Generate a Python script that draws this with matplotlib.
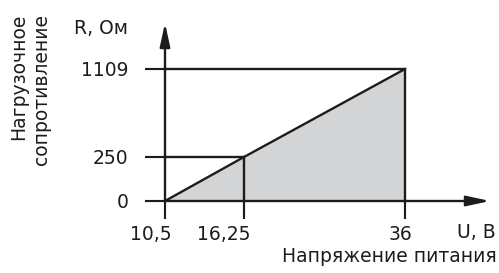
import numpy as np
import matplotlib
matplotlib.use("Agg")
import matplotlib.pyplot as plt
from matplotlib.scale import FuncScale
from matplotlib.transforms import ScaledTranslation

plt.rcParams['font.family'] = ['DejaVu Sans']

# ---- data ----
u_values = [10.5, 16.25, 36]           # supply voltage, V
u_labels = ["10,5", "16,25", "36"]
r_values = [0, 250, 1109]              # load resistance, Ohm
r_labels = ["0", "250", "1109"]
line_u = [10.5, 16.25, 36]
line_r = [0, 250, 1109]

W, H = 499, 273
DPI = 100
fig = plt.figure(figsize=(W / DPI, H / DPI), dpi=DPI)
ax = fig.add_axes([0, 0, 1, 1])
ax.set_facecolor('none')

# schematic (non-linear) axes: piecewise-linear scales
x_px = [165, 244, 405]
y_px = [72, 116, 204]


def make_pw(xs, ys):
    xs = np.asarray(xs, float)
    ys = np.asarray(ys, float)

    def f(v):
        v = np.asarray(v, float)
        lo = ys[0] + (v - xs[0]) * (ys[1] - ys[0]) / (xs[1] - xs[0])
        hi = ys[-1] + (v - xs[-1]) * (ys[-1] - ys[-2]) / (xs[-1] - xs[-2])
        return np.where(v < xs[0], lo, np.where(v > xs[-1], hi, np.interp(v, xs, ys)))
    return f


fx, gx = make_pw(u_values, x_px), make_pw(x_px, u_values)
fy, gy = make_pw(r_values, y_px), make_pw(y_px, r_values)
ax.set_xscale(FuncScale(ax.xaxis, (fx, gx)))
ax.set_yscale(FuncScale(ax.yaxis, (fy, gy)))
ax.set_xlim(float(gx(0)), float(gx(W)))
ax.set_ylim(float(gy(0)), float(gy(H)))

lw = 1.7
ink = '#1c1c1c'
fs = 13.5

# fill under the line
ax.fill_between([u_values[0], u_values[-1]], [r_values[0], r_values[-1]], r_values[0],
                color='#d3d4d6', lw=0, zorder=1)
ax.plot(line_u, line_r, color=ink, lw=lw, zorder=3, solid_capstyle='butt')

# guide lines
kw = dict(color=ink, lw=lw, zorder=3, solid_capstyle='projecting')
ax.plot([u_values[0], u_values[1]], [r_values[1], r_values[1]], **kw)
ax.plot([u_values[1], u_values[1]], [r_values[0], r_values[1]], **kw)
ax.plot([u_values[0], u_values[2]], [r_values[2], r_values[2]], **kw)
ax.plot([u_values[2], u_values[2]], [r_values[0], r_values[2]], **kw)

# axes with arrows
arrow = dict(arrowstyle='-|>,head_length=0.78,head_width=0.17', mutation_scale=18,
             color=ink, lw=lw, shrinkA=0, shrinkB=0)
ax.annotate('', xy=(u_values[0], float(gy(H - 23))), xytext=(u_values[0], r_values[0]),
            arrowprops=arrow, zorder=4)
ax.annotate('', xy=(float(gx(490)), r_values[0]), xytext=(u_values[0], r_values[0]),
            arrowprops=arrow, zorder=4)

# spines only used to position ticks
for s in ax.spines.values():
    s.set_visible(False)
ax.spines['left'].set_position(('data', u_values[0]))
ax.spines['bottom'].set_position(('data', r_values[0]))

ax.set_xticks(u_values, [""] * len(u_values))
ax.set_yticks(r_values, r_labels)
ax.minorticks_off()
ax.tick_params(axis='x', direction='out', length=13, width=lw * 0.9, color=ink)
ax.tick_params(axis='y', direction='out', length=14.4, width=lw * 0.9, color=ink,
               pad=12, labelsize=fs, labelcolor=ink)
ax.xaxis.set_ticks_position('bottom')
ax.yaxis.set_ticks_position('left')

# x tick labels: right-aligned slightly past each tick, as in the reference
off = ax.get_xaxis_transform() + ScaledTranslation(7 / DPI, 0, fig.dpi_scale_trans)
for u, lab in zip(u_values, u_labels):
    ax.text(u, fy(r_values[0]) / H - 33 / H, lab, transform=off, ha='right', va='center',
            fontsize=fs, color=ink)

# labels
tr = fig.transFigure
def px(x, y):
    return x / W, 1 - y / H

ax.text(*px(128, 29), "R, Ом", transform=tr, ha='right', va='center',
        fontsize=fs, color=ink)
ax.text(*px(457, 233), "U, В", transform=tr, ha='left', va='center',
        fontsize=fs, color=ink)
ax.text(*px(497, 262), "Напряжение питания", transform=tr, ha='right',
        va='baseline', fontsize=fs, color=ink)
ax.text(*px(19, 14), "Нагрузочное", transform=tr, ha='center', va='top',
        rotation=90, fontsize=fs, color=ink)
ax.text(*px(42, 14), "сопротивление", transform=tr, ha='center', va='top',
        rotation=90, fontsize=fs, color=ink)

fig.savefig("out.png", dpi=DPI)
